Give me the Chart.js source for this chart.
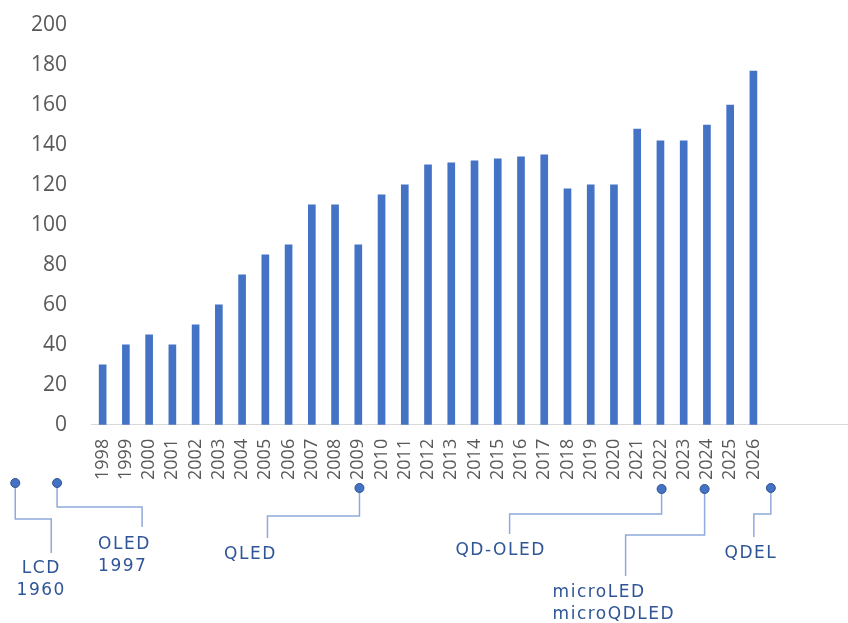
<!DOCTYPE html>
<html>
<head>
<meta charset="utf-8">
<script src="https://cdn.jsdelivr.net/npm/chart.js@4"></script>
<style>
  html, body { margin: 0; padding: 0; background: #fff; overflow: hidden; }
</style>
</head>
<body>
<canvas id="techChart" width="858" height="623"></canvas>
<script>
// categories (four empty slots keep the axis running on to the right)
const years = [
  "1998", "1999", "2000", "2001", "2002", "2003", "2004", "2005", "2006", "2007",
  "2008", "2009", "2010", "2011", "2012", "2013", "2014", "2015", "2016", "2017",
  "2018", "2019", "2020", "2021", "2022", "2023", "2024", "2025", "2026",
  "", "", "", "",
];
const values = [
  30, 40, 45, 40, 50, 60, 75, 85, 90, 110,
  110, 90, 115, 120, 130, 131, 132, 133, 134, 135,
  118, 120, 120, 148, 142, 142, 150, 160, 177,
];
const yTicks = [0, 20, 40, 60, 80, 100, 120, 140, 160, 180, 200];

// technology milestones under the axis (dot position as category index)
const techNames = [["LCD", "1960"], ["OLED", "1997"], ["QLED"], ["QD-OLED"], ["microLED", "microQDLED"], ["QDEL"]];
const techIndex = [-3.76, -1.96, 11.05, 24.05, 25.9, 28.75];

// elbow connector + label placement for each milestone
const techLayout = [
  { dotY: 483, bendY: 519, dx: 36, endY: 553, textDx: 26, textY: 569, align: "center" },
  { dotY: 483, bendY: 507, dx: 85, endY: 527, textDx: 41, textY: 545, align: "left" },
  { dotY: 488, bendY: 516, dx: -92, endY: 538, textDx: -109, textY: 555, align: "center" },
  { dotY: 489, bendY: 514, dx: -152, endY: 534, textDx: -161, textY: 551, align: "center" },
  { dotY: 489, bendY: 535, dx: -79, endY: 576, textDx: -152, textY: 593, align: "left" },
  { dotY: 488, bendY: 514, dx: -17, endY: 537, textDx: -20, textY: 554, align: "center" },
];

const milestonePlugin = {
  id: "milestones",
  afterDraw(chart) {
    const { ctx } = chart;
    const x = chart.scales.x;
    ctx.save();
    techNames.forEach((lines, i) => {
      const L = techLayout[i];
      const px = x.getPixelForValue(techIndex[i]);
      // connector
      ctx.strokeStyle = "#8FAADC";
      ctx.lineWidth = 1.5;
      ctx.beginPath();
      ctx.moveTo(px, L.dotY);
      ctx.lineTo(px, L.bendY);
      ctx.lineTo(px + L.dx, L.bendY);
      ctx.lineTo(px + L.dx, L.endY);
      ctx.stroke();
      // dot
      ctx.beginPath();
      ctx.arc(px, L.dotY, 4.5, 0, Math.PI * 2);
      ctx.fillStyle = "#4472C4";
      ctx.fill();
      ctx.strokeStyle = "#2F528F";
      ctx.lineWidth = 1;
      ctx.stroke();
      // label
      ctx.fillStyle = "#2F5597";
      ctx.font = "17px 'DejaVu Sans'";
      ctx.letterSpacing = "1.5px";
      ctx.textAlign = L.align;
      ctx.textBaseline = "middle";
      lines.forEach((t, j) => {
        ctx.fillText(t, px + L.textDx, L.textY + j * 22);
      });
    });
    ctx.restore();
  },
};

const ctx = document.getElementById("techChart").getContext("2d");

const techChart = new Chart(ctx, {
  type: "bar",
  data: {
    labels: years,
    datasets: [
      {
        data: values,
        backgroundColor: "#4472C4",
        barThickness: 7,
      },
    ],
  },
  options: {
    responsive: false,
    animation: false,
    layout: {
      padding: { top: 25, bottom: 129, left: 7, right: 0 },
    },
    plugins: {
      legend: { display: false },
      tooltip: { enabled: false },
    },
    scales: {
      x: {
        grid: { display: false, drawTicks: false },
        border: { display: true, color: "#D9D9D9", width: 1 },
        ticks: {
          color: "#595959",
          font: { family: "'Open Sans'", size: 18 },
          minRotation: 90,
          maxRotation: 90,
          padding: 14,
          autoSkip: false,
        },
        afterFit: (axis) => {
          axis.paddingLeft = 0;
          axis.paddingRight = 0;
        },
      },
      y: {
        min: 0,
        max: 200,
        afterBuildTicks: (axis) => {
          axis.ticks = yTicks.map((v) => ({ value: v }));
        },
        grid: { display: false, drawTicks: false },
        border: { display: false },
        ticks: {
          color: "#595959",
          font: { family: "'Open Sans'", size: 21 },
          padding: 24,
        },
        afterFit: (axis) => {
          axis.paddingTop = 0;
          axis.paddingBottom = 0;
        },
      },
    },
  },
  plugins: [milestonePlugin],
});
</script>
</body>
</html>
